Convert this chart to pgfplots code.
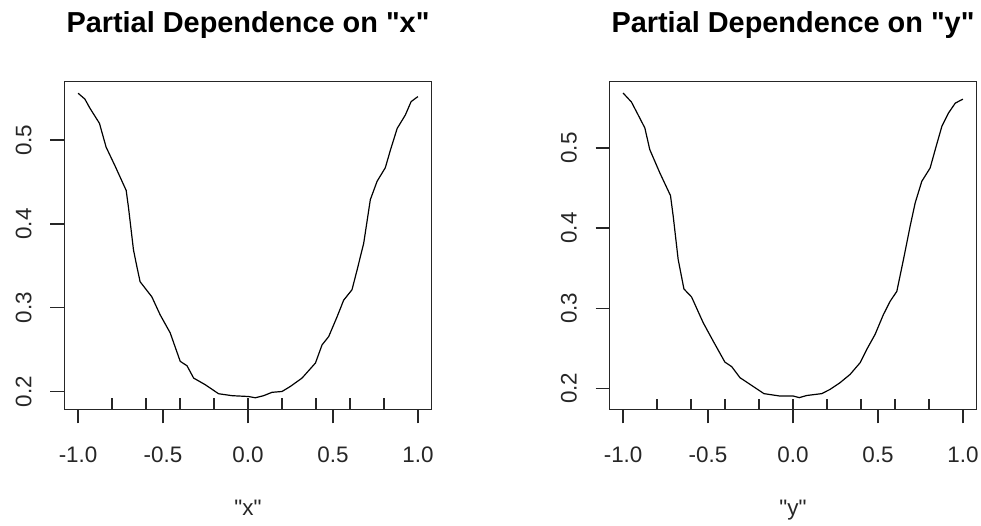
\documentclass[border=0pt]{standalone}
\usepackage{fontspec}
\setmainfont{Liberation Sans}[Ligatures=TeXOff]
\usepackage{pgfplots}
\pgfplotsset{compat=1.18}
\pgfplotsset{
  pdstyle/.style={
    scale only axis,
    width=367bp, height=328bp,
    xmin=-1.08, xmax=1.08,
    axis line style={line width=1.4bp, black!85},
    xtick={-1,-0.5,0,0.5,1},
    xticklabels={-1.0,-0.5,0.0,0.5,1.0},
    ytick={0.2,0.3,0.4,0.5},
    yticklabels={0.2,0.3,0.4,0.5},
    xtick pos=left, ytick pos=left,
    tick align=outside,
    major tick length=14bp,
    every tick/.style={line width=1.3bp, black!85},
    tick label style={font=\fontsize{22.5}{27}\selectfont, text=black!85},
    xticklabel style={anchor=base},
    xticklabel shift=39bp,
    yticklabel style={rotate=90, anchor=base},
    yticklabel shift=19bp,
    extra x ticks={-0.8,-0.6,-0.4,-0.2,0,0.2,0.4,0.6,0.8},
    extra x tick labels={},
    extra x tick style={tick align=inside, major tick length=11bp},
    title style={at={(axis description cs:0.5,1)}, anchor=base, yshift=42.7bp,
                 font=\fontsize{29}{34}\selectfont\bfseries},
    xlabel style={at={(axis description cs:0.5,0)}, anchor=base, yshift=-105.7bp,
                  font=\fontsize{22.5}{27}\selectfont, text=black!85},
  }
}
\begin{document}
\begin{tikzpicture}
\path[use as bounding box] (0,0) rectangle (981bp,526bp);
\begin{axis}[pdstyle, at={(64.5bp,116.5bp)}, anchor=south west,
  ymin=0.1785, ymax=0.570,
  title={Partial Dependence on "x"}, xlabel={"x"}]
\addplot[black, line width=1.2bp] coordinates {
(-1.0,0.556) (-0.96,0.549) (-0.93,0.538) (-0.874,0.520) (-0.866,0.514)
(-0.835,0.4916) (-0.782,0.469) (-0.717,0.440) (-0.703,0.419) (-0.674,0.369)
(-0.654,0.349) (-0.635,0.331) (-0.566,0.313) (-0.517,0.2915) (-0.458,0.270)
(-0.399,0.236) (-0.359,0.2307) (-0.320,0.216) (-0.251,0.208) (-0.173,0.1973)
(-0.094,0.195) (0.003,0.194) (0.043,0.1925) (0.092,0.195) (0.141,0.199)
(0.200,0.200) (0.249,0.206) (0.318,0.216) (0.397,0.234) (0.436,0.2557)
(0.475,0.2656) (0.524,0.289) (0.563,0.309) (0.612,0.3214) (0.642,0.345)
(0.681,0.377) (0.72,0.429) (0.760,0.451) (0.808,0.467) (0.838,0.488)
(0.878,0.514) (0.926,0.530) (0.960,0.546) (1.0,0.552)
};
\end{axis}
\begin{axis}[pdstyle, at={(609.5bp,116.5bp)}, anchor=south west,
  ymin=0.1735, ymax=0.583,
  title={Partial Dependence on "y"}, xlabel={"y"}]
\addplot[black, line width=1.2bp] coordinates {
(-1.0,0.5686) (-0.951,0.5574) (-0.912,0.5415) (-0.872,0.525) (-0.843,0.498)
(-0.784,0.469) (-0.721,0.4405) (-0.705,0.4147) (-0.676,0.361) (-0.642,0.324)
(-0.597,0.314) (-0.529,0.282) (-0.470,0.259) (-0.401,0.2327) (-0.361,0.227)
(-0.312,0.2132) (-0.253,0.2049) (-0.171,0.1933) (-0.077,0.1903) (0.002,0.1903)
(0.037,0.1883) (0.081,0.191) (0.169,0.1933) (0.218,0.1986) (0.277,0.207)
(0.336,0.2173) (0.395,0.2319) (0.434,0.2485) (0.483,0.2672) (0.532,0.292)
(0.572,0.3087) (0.611,0.321) (0.65,0.3607) (0.689,0.402) (0.719,0.4314)
(0.758,0.4584) (0.807,0.475) (0.837,0.4979) (0.876,0.527) (0.915,0.5436)
(0.955,0.556) (1.0,0.561)
};
\end{axis}
\end{tikzpicture}
\end{document}
